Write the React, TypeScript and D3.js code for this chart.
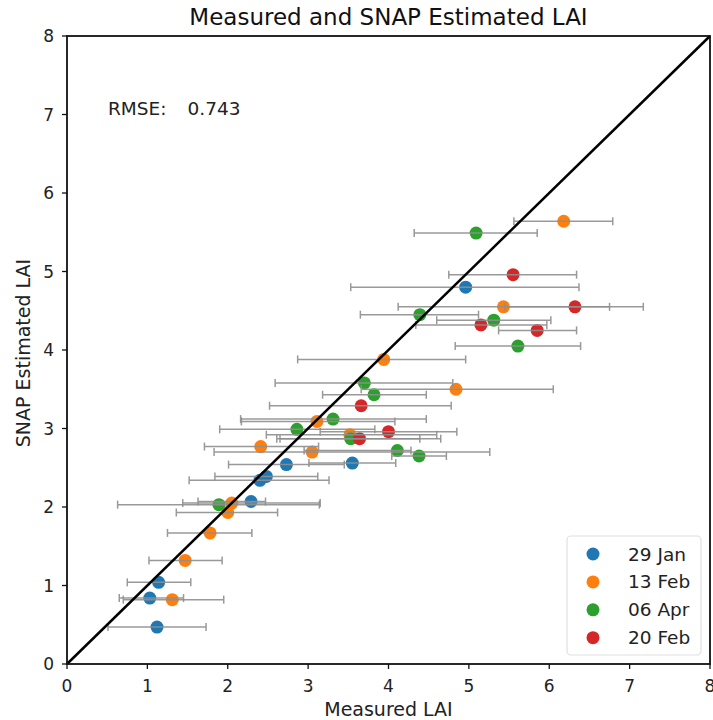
import React from "react";
import * as d3 from "d3";

const seriesNames = ["29 Jan", "13 Feb", "06 Apr", "20 Feb"];
const seriesColors = ["#1f77b4", "#ff7f0e", "#2ca02c", "#d62728"];

const janX = [1.12, 1.03, 1.14, 2.29, 2.40, 2.48, 2.73, 3.55, 4.96];
const janY = [0.47, 0.84, 1.04, 2.07, 2.34, 2.39, 2.54, 2.56, 4.80];
const janLo = [0.51, 0.65, 0.75, 1.63, 1.52, 1.84, 2.01, 3.01, 3.53];
const janHi = [1.73, 1.45, 1.54, 2.47, 3.26, 3.12, 3.45, 4.09, 6.37];

const febX = [1.31, 1.47, 1.78, 2.00, 2.05, 3.05, 2.41, 3.52, 3.11, 4.84, 3.94, 5.43, 6.18];
const febY = [0.82, 1.32, 1.67, 1.93, 2.05, 2.70, 2.77, 2.92, 3.09, 3.50, 3.88, 4.55, 5.64];
const febLo = [0.70, 1.02, 1.25, 1.36, 1.44, 1.83, 1.71, 2.48, 2.17, 3.66, 2.87, 4.12, 5.56];
const febHi = [1.95, 1.93, 2.30, 2.62, 3.15, 5.26, 3.13, 4.60, 4.08, 6.05, 4.96, 6.75, 6.79];

const aprX = [1.89, 4.38, 4.11, 3.53, 2.86, 3.31, 3.82, 3.70, 5.61, 5.31, 4.39, 5.09];
const aprY = [2.03, 2.65, 2.72, 2.87, 2.99, 3.12, 3.43, 3.58, 4.05, 4.38, 4.45, 5.49];
const aprLo = [0.63, 4.04, 2.95, 2.61, 1.90, 2.16, 3.18, 2.59, 4.83, 4.60, 3.65, 4.32];
const aprHi = [3.14, 4.72, 4.28, 4.65, 3.83, 4.47, 4.47, 4.80, 6.39, 6.02, 5.12, 5.85];

const feb20X = [3.64, 4.00, 3.66, 5.85, 5.15, 6.32, 5.55];
const feb20Y = [2.87, 2.96, 3.29, 4.25, 4.32, 4.55, 4.96];
const feb20Lo = [2.65, 3.15, 2.52, 5.37, 4.34, 5.45, 4.75];
const feb20Hi = [4.39, 4.85, 4.78, 6.34, 5.97, 7.17, 6.34];

const xTicks = [0, 1, 2, 3, 4, 5, 6, 7, 8];
const yTicks = [0, 1, 2, 3, 4, 5, 6, 7, 8];
const rmseLabel = "RMSE:";
const rmseValue = "0.743";

const series = [
  { x: janX, y: janY, lo: janLo, hi: janHi },
  { x: febX, y: febY, lo: febLo, hi: febHi },
  { x: aprX, y: aprY, lo: aprLo, hi: aprHi },
  { x: feb20X, y: feb20Y, lo: feb20Lo, hi: feb20Hi },
];

const W = 713;
const H = 720;
const L = 67, R = 710, T = 36, B = 664;
const FONT = "DejaVu Sans, sans-serif";

export default function App() {
  const x = d3.scaleLinear().domain([0, 8]).range([L, R]);
  const y = d3.scaleLinear().domain([0, 8]).range([B, T]);
  const line = d3.line<[number, number]>().x((d) => x(d[0])).y((d) => y(d[1]));
  const barColor = "#8f8f8f";
  return (
    <svg width={W} height={H} style={{ position: "absolute", left: 0, top: 0 }} fontFamily={FONT}>
      <rect x={0} y={0} width={W} height={H} fill="#fff" />
      <text x={(L + R) / 2} y={25} textAnchor="middle" fontSize={23} fill="#111">
        Measured and SNAP Estimated LAI
      </text>
      {/* points */}
      {series.map((s, si) =>
        s.x.map((xv, i) => (
          <circle key={`p${si}-${i}`} cx={x(xv)} cy={y(s.y[i])} r={6.5} fill={seriesColors[si]} />
        ))
      )}
      {/* error bars */}
      {series.map((s, si) =>
        s.x.map((xv, i) => {
          const cy = y(s.y[i]);
          const x0 = x(s.lo[i]);
          const x1 = x(s.hi[i]);
          return (
            <g key={`e${si}-${i}`} stroke={barColor} strokeWidth={1.5} opacity={0.9}>
              <line x1={x0} x2={x1} y1={cy} y2={cy} />
              <line x1={x0} x2={x0} y1={cy - 4} y2={cy + 4} />
              <line x1={x1} x2={x1} y1={cy - 4} y2={cy + 4} />
            </g>
          );
        })
      )}
      {/* 1:1 line */}
      <path d={line([[0, 0], [8, 8]]) || ""} stroke="#000" strokeWidth={2.5} fill="none" />
      {/* frame */}
      <rect x={L} y={T} width={R - L} height={B - T} fill="none" stroke="#111" strokeWidth={1.8} />
      {/* x ticks */}
      {xTicks.map((t) => (
        <g key={`xt${t}`}>
          <line x1={x(t)} x2={x(t)} y1={B} y2={B + 5} stroke="#111" strokeWidth={1.3} />
          <text x={x(t)} y={692} textAnchor="middle" fontSize={17} fill="#222">
            {t}
          </text>
        </g>
      ))}
      {yTicks.map((t) => (
        <g key={`yt${t}`}>
          <line x1={L - 5} x2={L} y1={y(t)} y2={y(t)} stroke="#111" strokeWidth={1.3} />
          <text x={L - 13} y={y(t) + 6.2} textAnchor="end" fontSize={17} fill="#222">
            {t}
          </text>
        </g>
      ))}
      <text x={(L + R) / 2} y={716} textAnchor="middle" fontSize={19} fill="#222">
        Measured LAI
      </text>
      <text
        transform={`translate(30, ${(T + B) / 2 + 3}) rotate(-90)`}
        textAnchor="middle"
        fontSize={19}
        fill="#222"
      >
        SNAP Estimated LAI
      </text>
      <text x={x(0.51)} y={y(7.08) + 7} fontSize={18.5} fill="#222">
        {rmseLabel}
      </text>
      <text x={x(1.5)} y={y(7.08) + 7} fontSize={18.5} fill="#222">
        {rmseValue}
      </text>
      {/* legend */}
      <rect x={567} y={536} width={134} height={119} rx={4} fill="#fff" stroke="#ddd" strokeWidth={1.2} opacity={0.9} />
      {seriesNames.map((n, i) => (
        <g key={`lg${i}`}>
          <circle cx={593} cy={554 + i * 27.9} r={6.5} fill={seriesColors[i]} />
          <text x={628} y={554 + i * 27.9 + 6.5} fontSize={18.5} fill="#222">
            {n}
          </text>
        </g>
      ))}
    </svg>
  );
}
